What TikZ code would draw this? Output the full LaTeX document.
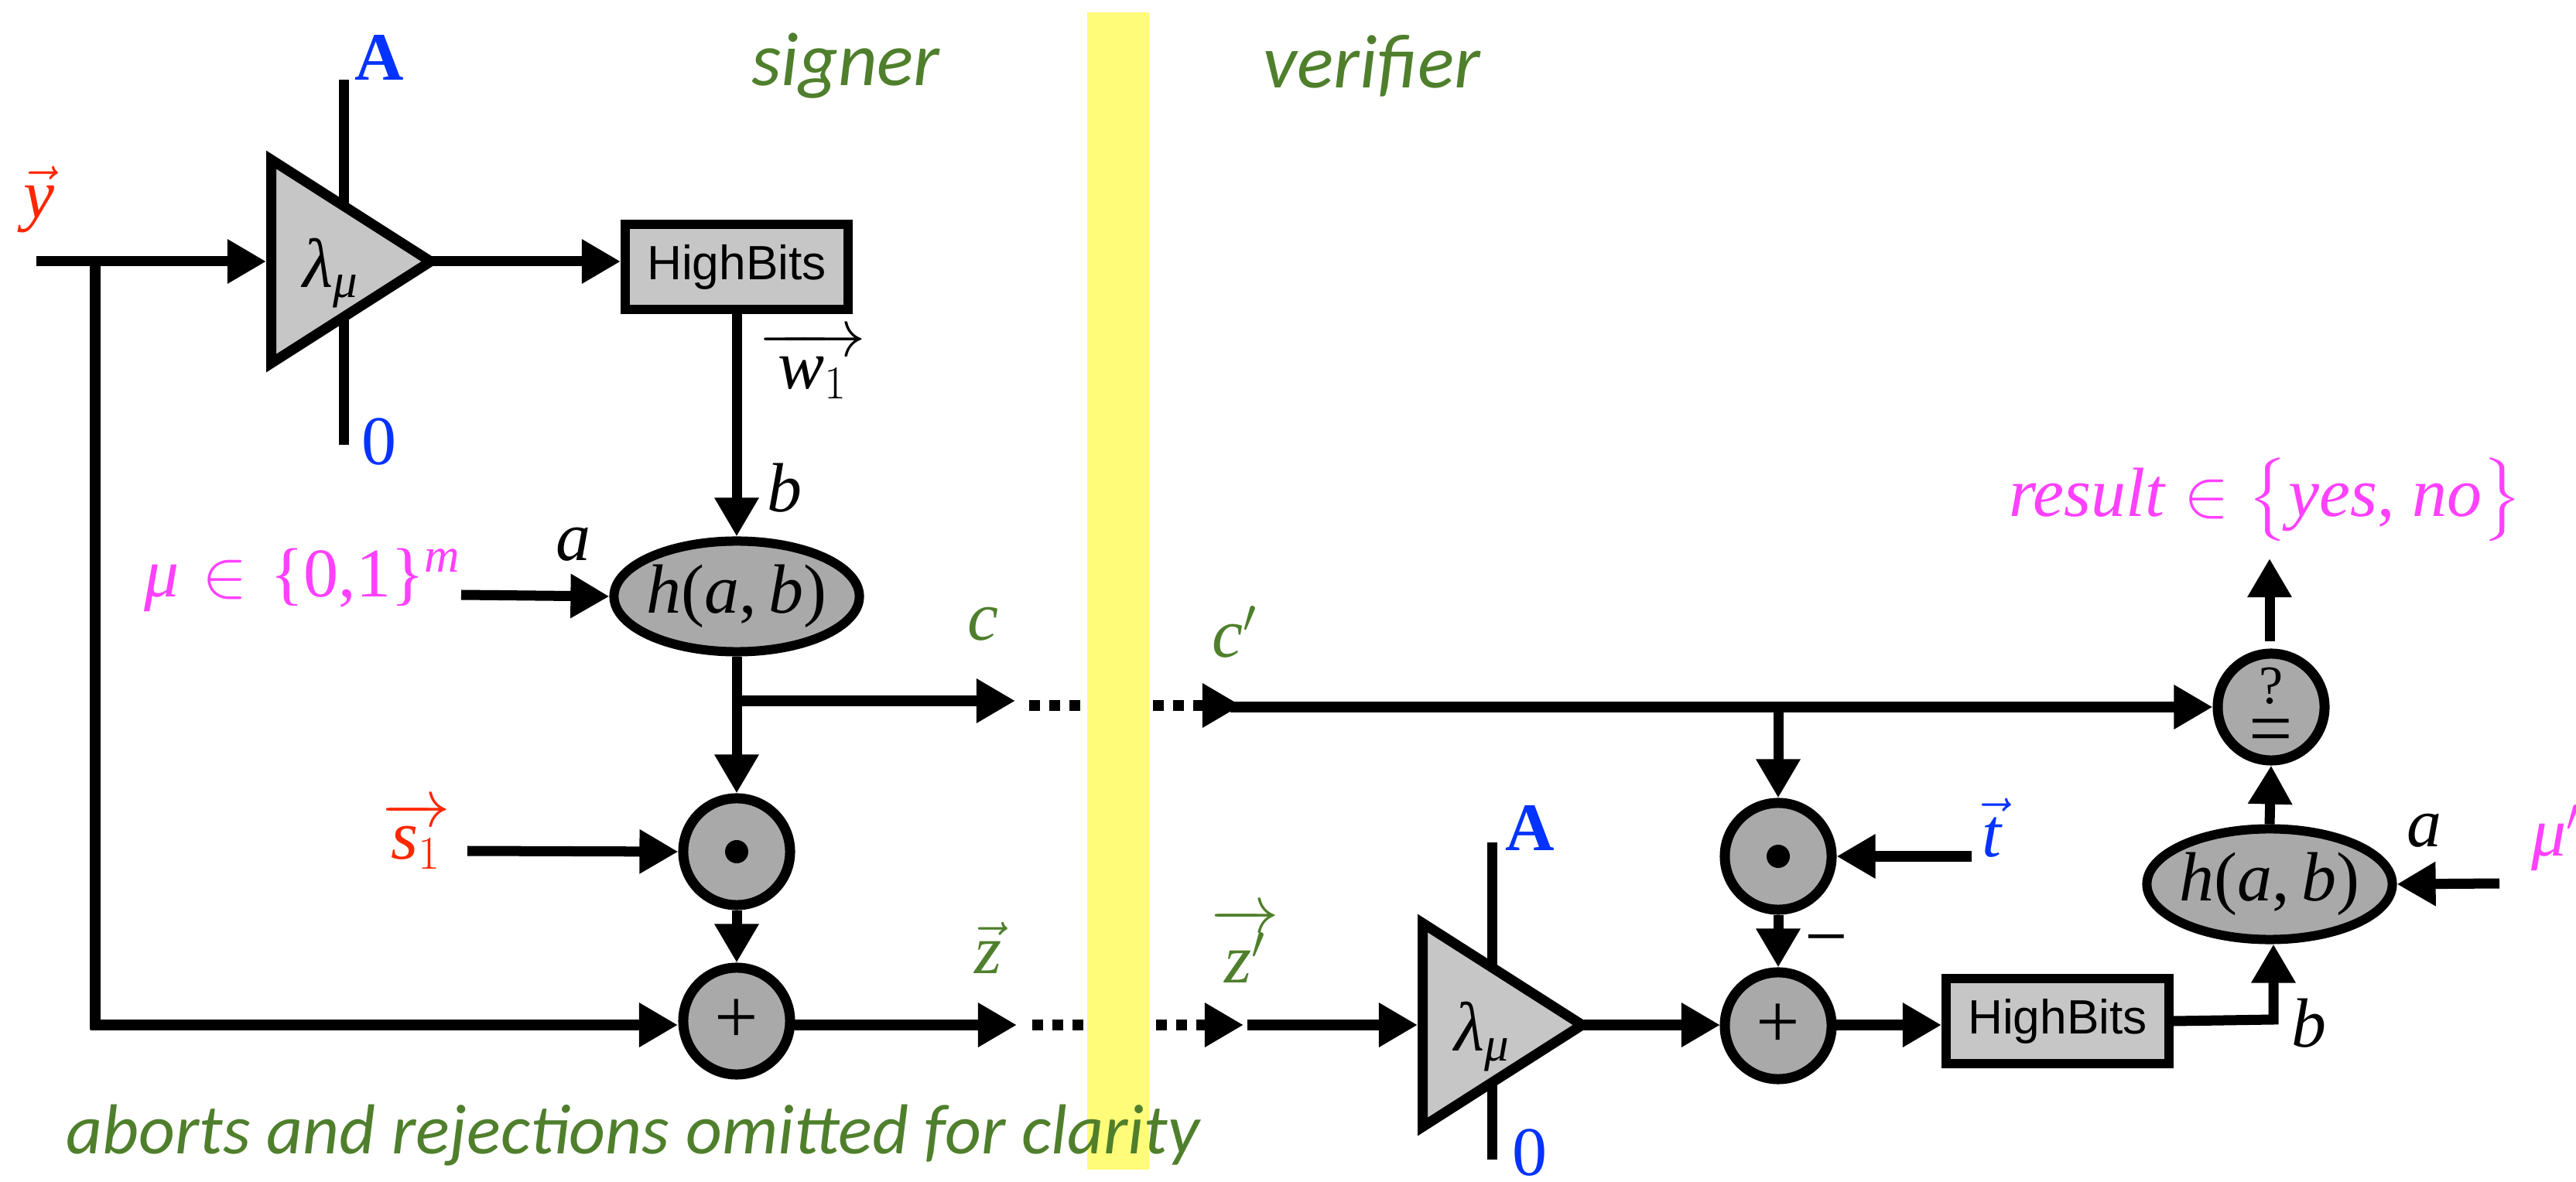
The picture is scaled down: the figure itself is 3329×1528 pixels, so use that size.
\documentclass[tikz,border=0pt]{standalone}
\usepackage{amsmath, amssymb}
\usepackage{xcolor}
\usepackage{fontspec}
\setmainfont{Liberation Serif}
\newfontfamily\sansfont{Liberation Sans}
\newfontfamily\handfont{Carlito}
\usepackage{tikz}
\usetikzlibrary{arrows.meta,shapes.geometric}
\definecolor{sigred}{HTML}{FF2600}
\definecolor{keyblue}{HTML}{0433FF}
\definecolor{msgpink}{HTML}{FF40FF}
\definecolor{sidegreen}{HTML}{4F7F2C}
\definecolor{bandyellow}{HTML}{FFFC79}
\definecolor{ampgray}{HTML}{C6C6C6}
\definecolor{opgray}{HTML}{A9A9A9}

\begin{document}
\begin{tikzpicture}[
    x=0.01cm, y=-0.01cm,
    wire/.style={line width=0.13cm},
    arrow/.style={wire, -{Triangle[length=0.5cm, width=0.54cm]}},
    dots/.style={line width=0.13cm, dash pattern=on 0.14cm off 0.12cm},
    amp/.style={isosceles triangle, isosceles triangle stretches, draw, line width=0.13cm, fill=ampgray, minimum width=2.63cm, minimum height=2.06cm, inner sep=0pt, anchor=lower side},
    bitsbox/.style={rectangle, draw, line width=0.12cm, fill=ampgray, minimum width=2.88cm, minimum height=1.1cm, inner sep=0pt, font=\sansfont\fontsize{17.7}{20}\selectfont},
    hashnode/.style={ellipse, draw, line width=0.12cm, fill=opgray, minimum width=3.17cm, minimum height=1.43cm, inner xsep=-0.1cm, inner ysep=0pt, font=\fontsize{25.6}{30}\selectfont},
    opnode/.style={circle, draw, line width=0.13cm, fill=opgray, minimum size=1.38cm, inner sep=0pt, font=\fontsize{28.5}{32}\selectfont},
    lbl/.style={inner sep=0pt, font=\fontsize{25.6}{30}\selectfont},
    hand/.style={inner sep=0pt, text=sidegreen, font=\handfont\itshape\fontsize{26}{30}\selectfont},
    handtop/.style={hand, font=\handfont\itshape\fontsize{28}{32}\selectfont}
]
\useasboundingbox (0,0) rectangle (3329,1528);

% Boundary between the two sides
\node[fill=bandyellow, minimum width=0.8cm, minimum height=14.95cm, inner sep=0pt] (band) at (1445,764) {};
\node[handtop] (signer) at (1093,85) {signer};
\node[handtop] (verifier) at (1773,85) {verifier};
\node[hand] (note) at (818,1468) {aborts and rejections omitted for clarity};

% Signer side, first row
\coordinate (atop) at (444,103);
\coordinate (abot) at (444,575);
\draw[wire] (atop) -- (abot);
\node[amp] (amp) at (344,338) {};
\node[lbl] (lam) at (428,353) {$\textit{λ}_{\textit{μ}}$};
\node[lbl, text=keyblue, font=\bfseries\fontsize{25}{30}\selectfont] (amat) at (490,74) {A};
\node[lbl, text=keyblue] (zero) at (490,571) {0};
\node[lbl, text=sigred] (yvec) at (50,258) {$\vec{\textit{y}}$};
\node[bitsbox] (bits) at (952,345) {HighBits};
\node[lbl] (wvec) at (1050,472) {$\overrightarrow{\;\textit{w}_1\;}$};

\coordinate (yin) at (47,338);
\coordinate (ybr) at (123,338);
\coordinate (ylow) at (123,1331);
\coordinate (ampout) at (555,338);
\coordinate (bitsin) at (802,338);
\draw[arrow] (yin) -- (amp.lower side);
\draw[wire] (ybr) -- (ylow);
\draw[arrow] (ampout) -- (bitsin);

% Hash of the message
\node[hashnode] (hash) at (952,771) {\textit{h}(\textit{a},\,\textit{b})};
\draw[arrow] (bits.south) -- node[lbl, pos=0.78, xshift=0.62cm] (bsig) {\textit{b}} (hash.north);
\node[lbl, text=msgpink] (msg) at (391,750) {\textit{μ}\,\,$\in$\,\,\{0,1\}$^{\textit{m}}$};
\node[lbl] (asig) at (741,704) {\textit{a}};
\coordinate (msgout) at (596,769);
\draw[arrow] (msgout) -- (hash.west);

% Challenge and response
\node[opnode] (dot) at (952,1101) {};
\node[circle, fill=black, minimum size=0.3cm, inner sep=0pt] (dotmark) at (dot) {};
\node[opnode] (add) at (952,1320) {+};
\coordinate (cbr) at (952,906);
\coordinate (cout) at (1312,906);
\draw[arrow] (hash.south) -- (dot.north);
\draw[arrow] (cbr) -- (cout);
\draw[arrow] (dot.south) -- (add.north);
\node[lbl, text=sigred] (svec) at (538,1080) {$\overrightarrow{\textit{s}_1}$};
\coordinate (sout) at (604,1100);
\draw[arrow] (sout) -- (dot.west);
\coordinate (ycorner) at (117,1325);
\coordinate (addin) at (876,1325);
\draw[arrow] (ycorner) -- (addin);
\coordinate (addout) at (1027,1325);
\coordinate (zout) at (1314,1325);
\draw[arrow] (addout) -- (zout);
\node[lbl, text=sidegreen] (clab) at (1270,807) {\textit{c}};
\node[lbl, text=sidegreen] (zlab) at (1277,1225) {$\vec{\textit{z}}$};

% Dotted crossing
\coordinate (cl) at (1330,912);
\coordinate (cm) at (1398,912);
\coordinate (cr) at (1490,912);
\coordinate (cs) at (1556,912);
\coordinate (ctip) at (1604,912);
\draw[dots] (cl) -- (cm);
\draw[dots] (cr) -- (cs);
\draw[arrow] (cs) -- (ctip);
\coordinate (zl) at (1334,1325);
\coordinate (zm) at (1401,1325);
\coordinate (zr) at (1494,1325);
\coordinate (zs) at (1560,1325);
\coordinate (ztip) at (1607,1325);
\draw[dots] (zl) -- (zm);
\draw[dots] (zr) -- (zs);
\draw[arrow] (zs) -- (ztip);

% Verifier side
\node[lbl, text=sidegreen] (cpl) at (1596,817) {$\textit{c}'$};
\node[lbl, text=sidegreen] (zpl) at (1609,1222) {$\overrightarrow{\,\textit{z}'\,}$};
\coordinate (vtop) at (1928,1089);
\coordinate (vbot) at (1928,1499);
\draw[wire] (vtop) -- (vbot);
\node[amp] (vamp) at (1832,1325) {};
\node[lbl] (vlam) at (1916,1340) {$\textit{λ}_{\textit{μ}}$};
\node[lbl, text=keyblue, font=\bfseries\fontsize{25}{30}\selectfont] (vamat) at (1977,1070) {A};
\node[lbl, text=keyblue] (vzero) at (1977,1490) {0};
\coordinate (zin) at (1612,1325);
\draw[arrow] (zin) -- (vamp.lower side);

\node[opnode] (check) at (2935,914) {$\stackrel{\text{?}}{\text{=}}$};
\node[opnode] (vdot) at (2298,1107) {};
\node[circle, fill=black, minimum size=0.3cm, inner sep=0pt] (vdotmark) at (vdot) {};
\node[opnode] (vadd) at (2298,1326) {+};
\node[bitsbox] (vbits) at (2659,1320) {HighBits};
\node[hashnode] (vhash) at (2933,1143) {\textit{h}(\textit{a},\,\textit{b})};

\coordinate (cin) at (1590,914);
\coordinate (cbr2) at (2298,914);
\draw[arrow] (cin) -- (check.west);
\draw[arrow] (cbr2) -- (vdot.north);
\draw[arrow] (vdot.south) -- (vadd.north);
\node[lbl, font=\fontsize{28}{30}\selectfont] (minus) at (2360,1226) {−};
\coordinate (tout) at (2548,1107);
\draw[arrow] (tout) -- (vdot.east);
\node[lbl, text=keyblue] (tlab) at (2574,1070) {$\vec{\textit{t}}$};
\coordinate (vampout) at (2043,1325);
\coordinate (vaddin) at (2223,1325);
\coordinate (vaddout) at (2373,1325);
\coordinate (vbitsin) at (2509,1325);
\draw[arrow] (vampout) -- (vaddin);
\draw[arrow] (vaddout) -- (vbitsin);

% Result and the second hash
\coordinate (bend) at (2938,1318);
\draw[arrow] (vbits.east) -- (bend) -- (vhash.south -| bend);
\node[lbl] (vbsig) at (2984,1323) {\textit{b}};
\draw[arrow] (vhash.north) -- (check.south);
\coordinate (mout) at (3230,1142);
\draw[arrow] (mout) -- (vhash.east);
\node[lbl] (vasig) at (3133,1074) {\textit{a}};
\node[lbl, text=msgpink, anchor=west] (vmsg) at (3271,1083) {$\textit{μ}'$};
\coordinate (rout) at (2933,829);
\coordinate (rtip) at (2933,722);
\draw[arrow] (rout) -- (rtip);
\node[lbl, text=msgpink] (res) at (2928,646) {\textit{result} $\in\big\{$\textit{yes}, \textit{no}$\big\}$};

\end{tikzpicture}
\end{document}
